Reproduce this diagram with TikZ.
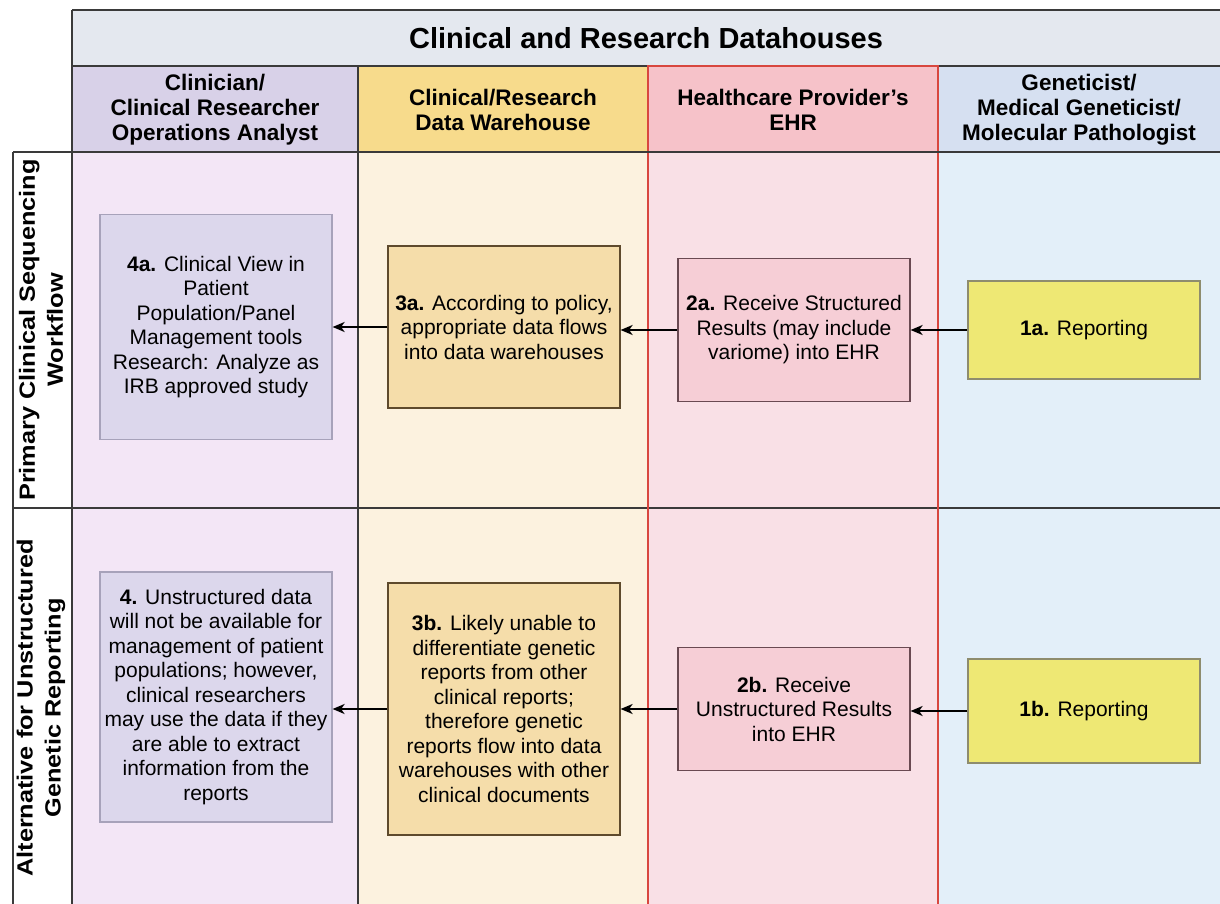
\documentclass[tikz,border=0pt]{standalone}
\usepackage{fontspec}
\setmainfont{Liberation Sans}
\usetikzlibrary{arrows.meta}

% lane and header colours
\definecolor{titlebg}{HTML}{E4E8EF}
\definecolor{headA}{HTML}{D8D1E8}
\definecolor{headB}{HTML}{F7DB8C}
\definecolor{headC}{HTML}{F6C2C9}
\definecolor{headD}{HTML}{D6E0F1}
\definecolor{laneA}{HTML}{F3E6F6}
\definecolor{laneB}{HTML}{FCF2DF}
\definecolor{laneC}{HTML}{F9E0E6}
\definecolor{laneD}{HTML}{E3EFF9}
\definecolor{boxA}{HTML}{DCD7EC}
\definecolor{boxAline}{HTML}{A7A2BA}
\definecolor{boxB}{HTML}{F5DDAA}
\definecolor{boxBline}{HTML}{5E4A2C}
\definecolor{boxC}{HTML}{F6CED6}
\definecolor{boxCline}{HTML}{6A4A52}
\definecolor{boxD}{HTML}{EEE874}
\definecolor{boxDline}{HTML}{8E8C6E}
\definecolor{gridline}{HTML}{3A3A3A}
\definecolor{redline}{HTML}{D8473F}

\tikzset{
  grid/.style={draw=gridline, line width=1.6pt},
  heavygrid/.style={draw=gridline, line width=2.6pt},
  redgrid/.style={draw=redline, line width=1.8pt},
  titletext/.style={font=\bfseries\fontsize{29}{32}\selectfont, align=center},
  headtext/.style={font=\bfseries\fontsize{22.5}{25}\selectfont, align=center},
  rowtext/.style={font=\bfseries\fontsize{22}{28}\selectfont, align=center, rotate=90},
  stepbox/.style={rectangle, minimum width=232pt, inner sep=3pt, align=center,
    font=\fontsize{21}{24.5}\selectfont, line width=1.2pt},
  viewbox/.style={stepbox, fill=boxA, draw=boxAline},
  housebox/.style={stepbox, fill=boxB, draw=boxBline},
  ehrbox/.style={stepbox, fill=boxC, draw=boxCline},
  reportbox/.style={stepbox, fill=boxD, draw=boxDline},
  flow/.style={draw=black, line width=1.8pt, -{Stealth[length=12pt, width=10pt, inset=3.5pt]}}
}

\begin{document}
\begin{tikzpicture}[x=1pt, y=-1pt]
\useasboundingbox (0,0) rectangle (1220,904);
\clip (0,0) rectangle (1220,904);
\fill[white] (0,0) rectangle (1220,904);

% lane bodies
\fill[laneA] (72,152) rectangle (358,910);
\fill[laneB] (358,152) rectangle (648,910);
\fill[laneC] (648,152) rectangle (938,910);
\fill[laneD] (938,152) rectangle (1230,910);

% title band and lane headers
\fill[titlebg] (72,10) rectangle (1230,66);
\fill[headA] (72,66) rectangle (358,152);
\fill[headB] (358,66) rectangle (648,152);
\fill[headC] (648,66) rectangle (938,152);
\fill[headD] (938,66) rectangle (1230,152);

% table rules
\draw[grid] (72,10) -- (72,910);
\draw[grid] (72,66) -- (1230,66);
\draw[grid] (358,66) -- (358,910);
\draw[grid] (13,152) -- (13,910);
\draw[grid] (13,152) -- (72,152);
\draw[grid] (13,508) -- (1230,508);
\draw[redgrid] (648,152) -- (648,910);
\draw[redgrid] (938,152) -- (938,910);
\draw[redgrid] (648,66) rectangle (938,152);
\draw[heavygrid] (72,10) -- (1230,10);
\draw[heavygrid] (72,152) -- (1230,152);

% headings
\node[titletext] (title) at (646,38) {Clinical and Research Datahouses};
\node[headtext] (hA) at (215,110) {Clinician/\\Clinical Researcher\\Operations Analyst};
\node[headtext] (hB) at (503,110) {Clinical/Research\\Data Warehouse};
\node[headtext] (hC) at (793,110) {Healthcare Provider's\\EHR};
\node[headtext] (hD) at (1079,110) {Geneticist/\\Medical Geneticist/\\Molecular Pathologist};

% row labels
\node[rowtext] (rowA) at (41,330)
  {\scalebox{1.15}[1]{Primary Clinical Sequencing}\\\scalebox{1.15}[1]{Workflow}};
\node[rowtext] (rowB) at (41,708)
  {\scalebox{1.15}[1]{Alternative for Unstructured}\\\scalebox{1.15}[1]{Genetic Reporting}};

% primary workflow steps
\node[reportbox, minimum height=98pt] (s1a) at (1084,330) {\textbf{1a.} Reporting};
\node[ehrbox, minimum height=143pt] (s2a) at (794,330)
  {\textbf{2a.} Receive Structured\\Results (may include\\variome) into EHR};
\node[housebox, minimum height=162pt] (s3a) at (504,327)
  {\textbf{3a.} According to policy,\\appropriate data flows\\into data warehouses};
\node[viewbox, minimum height=225pt] (s4a) at (216,327)
  {\textbf{4a.} Clinical View in\\Patient\\Population/Panel\\Management tools\\Research: Analyze as\\IRB approved study};

% unstructured reporting steps
\node[reportbox, minimum height=104pt] (s1b) at (1084,711) {\textbf{1b.} Reporting};
\node[ehrbox, minimum height=123pt] (s2b) at (794,709)
  {\textbf{2b.} Receive\\Unstructured Results\\into EHR};
\node[housebox, minimum height=252pt] (s3b) at (504,709)
  {\textbf{3b.} Likely unable to\\differentiate genetic\\reports from other\\clinical reports;\\therefore genetic\\reports flow into data\\warehouses with other\\clinical documents};
\node[viewbox, minimum height=250pt] (s4b) at (216,697)
  {\textbf{4.} Unstructured data\\will not be available for\\management of patient\\populations; however,\\clinical researchers\\may use the data if they\\are able to extract\\information from the\\reports};

% flows
\draw[flow] (s1a.west) -- (s1a.west -| s2a.east);
\draw[flow] (s2a.west) -- (s2a.west -| s3a.east);
\draw[flow] (s3a.west) -- (s3a.west -| s4a.east);
\draw[flow] (s1b.west) -- (s1b.west -| s2b.east);
\draw[flow] (s2b.west) -- (s2b.west -| s3b.east);
\draw[flow] (s3b.west) -- (s3b.west -| s4b.east);
\end{tikzpicture}
\end{document}
